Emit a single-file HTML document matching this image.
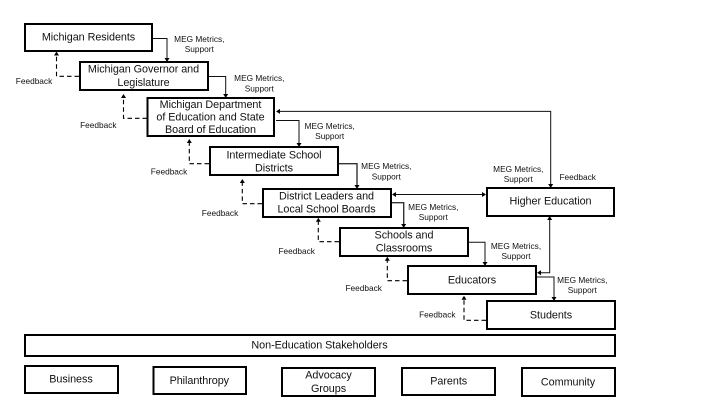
<!DOCTYPE html>
<html><head><meta charset="utf-8"><style>
html,body{margin:0;padding:0;background:#fff;width:720px;height:405px;overflow:hidden}
svg{display:block;filter:blur(.3px)}
text{font-family:"Liberation Sans",sans-serif;fill:#111;text-anchor:middle}
.b{font-size:10.8px;letter-spacing:-.05px}
.s{font-size:8.3px;fill:#222}
rect{fill:#fff;stroke:#000;stroke-width:2}
.l{fill:none;stroke:#111;stroke-width:1}
.g{fill:none;stroke:#333;stroke-width:1.4}
.d{fill:none;stroke:#000;stroke-width:1.1;stroke-dasharray:4.500 3}
.a{fill:#000}
</style></head><body>
<svg width="720" height="405" viewBox="0 0 720 405" xmlns="http://www.w3.org/2000/svg">
<!-- solid connectors -->
<path class="l" d="M152 38.500H167V58"/>
<path class="l" d="M208 76.500H225.700V94"/>
<path class="l" d="M276 120.500H299V143"/>
<path class="g" d="M338 163.700H357V185"/>
<path class="g" d="M391 202.700H403.700V224"/>
<path class="l" d="M468 242.300H485V262"/>
<path class="l" d="M536 277H554V297"/>
<path class="l" d="M280 111.400H550.700V184"/>
<path class="l" d="M396 194.500H482"/>
<path class="l" d="M549.700 220V272.700H541"/>
<g class="a">
<path d="M164.500 58h5l-2.500 4z"/><path d="M223.200 94h5l-2.500 4z"/><path d="M296.500 143h5l-2.500 4z"/>
<path d="M354.500 185h5l-2.500 4z"/><path d="M401.200 224h5l-2.500 4z"/><path d="M482.500 262h5l-2.500 4z"/>
<path d="M551.500 297h5l-2.500 4z"/><path d="M548.200 184h5l-2.500 4z"/>
<path d="M276 111.400l4-2.500v5z"/><path d="M392 194.500l4-2.500v5z"/><path d="M486 194.500l-4-2.500v5z"/>
<path d="M549.700 216l-2.500 4h5z"/><path d="M537 272.700l4-2.500v5z"/>
<path d="M56.500 51.500l-2.500 4h5z"/><path d="M123.500 94l-2.500 4h5z"/><path d="M189.300 139l-2.500 4h5z"/>
<path d="M242.300 179l-2.500 4h5z"/><path d="M318.300 217.700l-2.500 4h5z"/><path d="M387.300 256.700l-2.500 4h5z"/>
<path d="M464 295.700l-2.500 4h5z"/>
</g>
<!-- dashed feedback -->
<path class="d" d="M79 76.300H56.500V55"/>
<path class="d" d="M147 118.300H123.500V98"/>
<path class="d" d="M209 163.700H189.300V143"/>
<path class="d" d="M262 203.700H242.300V183"/>
<path class="d" d="M339 241.700H318.300V221"/>
<path class="d" d="M407 280.700H387.300V260"/>
<path class="d" d="M486 320.300H464V299"/>
<!-- boxes -->
<rect x="25" y="24" width="127" height="27"/>
<rect x="80" y="62" width="128" height="28"/>
<rect x="147.500" y="98" width="126.500" height="38"/>
<rect x="210" y="147" width="128" height="28"/>
<rect x="263" y="189" width="128" height="28"/>
<rect x="340" y="228" width="128" height="28"/>
<rect x="408" y="266" width="128" height="28"/>
<rect x="487" y="301" width="128" height="28"/>
<rect x="487" y="188" width="127" height="28"/>
<rect x="25" y="335" width="590" height="21"/>
<rect x="25" y="366" width="93" height="27"/>
<rect x="153.500" y="367" width="92.500" height="27"/>
<rect x="282" y="368" width="93" height="28"/>
<rect x="402" y="368" width="93" height="27"/>
<rect x="522" y="368" width="93" height="28"/>
<!-- box labels -->
<g class="b">
<text x="88.500" y="40.700">Michigan Residents</text>
<text x="143.500" y="72.700">Michigan Governor and</text>
<text x="143.500" y="86">Legislature</text>
<text x="210.500" y="108">Michigan Department</text>
<text x="210.500" y="120.700">of Education and State</text>
<text x="210.500" y="133">Board of Education</text>
<text x="274" y="158.700">Intermediate School</text>
<text x="274" y="171.700">Districts</text>
<text x="326.500" y="199.700">District Leaders and</text>
<text x="326.500" y="212.700">Local School Boards</text>
<text x="404" y="238.700">Schools and</text>
<text x="404" y="251.700">Classrooms</text>
<text x="472" y="283.700">Educators</text>
<text x="551" y="318.700">Students</text>
<text x="550.500" y="204.700">Higher Education</text>
<text x="319.500" y="348.700">Non-Education Stakeholders</text>
<text x="71" y="382.700">Business</text>
<text x="199.300" y="384">Philanthropy</text>
<text x="328.500" y="378.700">Advocacy</text>
<text x="328.500" y="392">Groups</text>
<text x="448.700" y="384.700">Parents</text>
<text x="568" y="385.700">Community</text>
</g>
<!-- connector labels -->
<g class="s">
<text x="199.300" y="42">MEG Metrics,</text><text x="199.300" y="52">Support</text>
<text x="259.300" y="81">MEG Metrics,</text><text x="259.300" y="91.300">Support</text>
<text x="329.700" y="129">MEG Metrics,</text><text x="329.700" y="139">Support</text>
<text x="386.300" y="169">MEG Metrics,</text><text x="386.300" y="179.300">Support</text>
<text x="433.300" y="210">MEG Metrics,</text><text x="433.300" y="220">Support</text>
<text x="518.300" y="172">MEG Metrics,</text><text x="518.300" y="182">Support</text>
<text x="516" y="249">MEG Metrics,</text><text x="516" y="259">Support</text>
<text x="582.300" y="283">MEG Metrics,</text><text x="582.300" y="293">Support</text>
<text x="34" y="84">Feedback</text>
<text x="98.300" y="128">Feedback</text>
<text x="169" y="174.300">Feedback</text>
<text x="220" y="216">Feedback</text>
<text x="296.700" y="254">Feedback</text>
<text x="363.700" y="291">Feedback</text>
<text x="437.300" y="317.300">Feedback</text>
<text x="577.700" y="180">Feedback</text>
</g>
</svg>
</body></html>
